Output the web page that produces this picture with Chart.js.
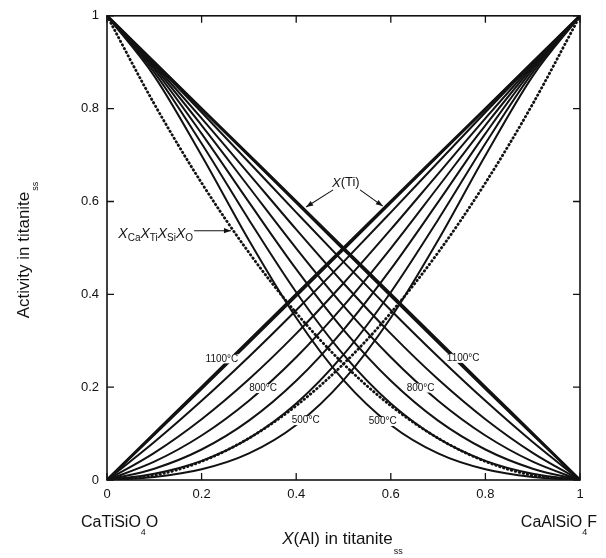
<!DOCTYPE html>
<html>
<head>
<meta charset="utf-8">
<script src="https://cdn.jsdelivr.net/npm/chart.js@4.4.0/dist/chart.umd.min.js"></script>
<style>
html, body { margin: 0; padding: 0; background: #fff; }
#wrap { width: 606px; height: 558px; }
</style>
</head>
<body>
<div id="wrap"><canvas id="chart" width="606" height="558"></canvas></div>
<script>
// X(Al) positions where the curves were read
var xAl = [0, 0.1, 0.2, 0.3, 0.4, 0.5, 0.6, 0.7, 0.8, 0.9, 1];

// ideal X(Al) and X(Ti)
var idealAl = [0, 0.1, 0.2, 0.3, 0.4, 0.5, 0.6, 0.7, 0.8, 0.9, 1];
var idealTi = [1, 0.9, 0.8, 0.7, 0.6, 0.5, 0.4, 0.3, 0.2, 0.1, 0];

// activity of the Al end member (rising curves)
var al1100 = [0, 0.0976, 0.1962, 0.2956, 0.3957, 0.4963, 0.5971, 0.6981, 0.7990, 0.8997, 1];
var al1000 = [0, 0.0817, 0.1705, 0.2655, 0.3657, 0.4698, 0.5766, 0.6845, 0.7921, 0.8978, 1];
var al900  = [0, 0.0585, 0.1310, 0.2170, 0.3153, 0.4239, 0.5398, 0.6596, 0.7791, 0.8941, 1];
var al800  = [0, 0.0394, 0.0958, 0.1708, 0.2644, 0.3751, 0.4991, 0.6312, 0.7640, 0.8897, 1];
var al700  = [0, 0.0244, 0.0657, 0.1279, 0.2138, 0.3236, 0.4542, 0.5985, 0.7462, 0.8845, 1];
var al600  = [0, 0.0136, 0.0413, 0.0896, 0.1647, 0.2700, 0.4045, 0.5607, 0.7249, 0.8781, 1];
var al500  = [0, 0.0065, 0.0230, 0.0573, 0.1186, 0.2150, 0.3496, 0.5165, 0.6990, 0.8701, 1];

// activity of the Ti end member (falling curves)
var ti1100 = [1, 0.8997, 0.7990, 0.6981, 0.5971, 0.4963, 0.3957, 0.2956, 0.1962, 0.0976, 0];
var ti1000 = [1, 0.8978, 0.7921, 0.6845, 0.5766, 0.4698, 0.3657, 0.2655, 0.1705, 0.0817, 0];
var ti900  = [1, 0.8941, 0.7791, 0.6596, 0.5398, 0.4239, 0.3153, 0.2170, 0.1310, 0.0585, 0];
var ti800  = [1, 0.8897, 0.7640, 0.6312, 0.4991, 0.3751, 0.2644, 0.1708, 0.0958, 0.0394, 0];
var ti700  = [1, 0.8845, 0.7462, 0.5985, 0.4542, 0.3236, 0.2138, 0.1279, 0.0657, 0.0244, 0];
var ti600  = [1, 0.8781, 0.7249, 0.5607, 0.4045, 0.2700, 0.1647, 0.0896, 0.0413, 0.0136, 0];
var ti500  = [1, 0.8701, 0.6990, 0.5165, 0.3496, 0.2150, 0.1186, 0.0573, 0.0230, 0.0065, 0];

// XCa XTi XSi XO (dotted)
var ionicAl = [0, 0.01, 0.04, 0.09, 0.16, 0.25, 0.36, 0.49, 0.64, 0.81, 1];
var ionicTi = [1, 0.81, 0.64, 0.49, 0.36, 0.25, 0.16, 0.09, 0.04, 0.01, 0];

var tickValues = [0, 0.2, 0.4, 0.6, 0.8, 1];
var tickLabels = ['0', '0.2', '0.4', '0.6', '0.8', '1'];

var INK = '#121212';
var FONT = 'Arial, "Liberation Sans", Helvetica, sans-serif';

function pts(ys) {
  return xAl.map(function(x, i) { return { x: x, y: ys[i] }; });
}

function curve(ys, width) {
  return {
    data: pts(ys),
    borderColor: INK,
    borderWidth: width,
    pointRadius: 0,
    fill: false,
    cubicInterpolationMode: 'monotone'
  };
}

function dotted(ys) {
  return {
    data: pts(ys),
    borderColor: INK,
    borderWidth: 2.8,
    borderDash: [0.5, 3.6],
    borderCapStyle: 'round',
    pointRadius: 0,
    fill: false,
    cubicInterpolationMode: 'monotone'
  };
}

var datasets = [
  dotted(ionicAl), dotted(ionicTi),
  curve(al500, 2), curve(al600, 2), curve(al700, 2), curve(al800, 2),
  curve(al900, 2), curve(al1000, 2), curve(al1100, 2.2),
  curve(ti500, 2), curve(ti600, 2), curve(ti700, 2), curve(ti800, 2),
  curve(ti900, 2), curve(ti1000, 2), curve(ti1100, 2.2),
  curve(idealAl, 2.8), curve(idealTi, 2.8)
];

// temperature labels, sitting in gaps of their curves
var tempNotes = [
  { t: '1100\u00b0C', x: 0.243, y: 0.261 },
  { t: '800\u00b0C',  x: 0.330, y: 0.197 },
  { t: '500\u00b0C',  x: 0.420, y: 0.128 },
  { t: '1100\u00b0C', x: 0.753, y: 0.262 },
  { t: '800\u00b0C',  x: 0.663, y: 0.198 },
  { t: '500\u00b0C',  x: 0.583, y: 0.126 }
];

function arrow(ctx, x0, y0, x1, y1) {
  ctx.beginPath();
  ctx.moveTo(x0, y0);
  ctx.lineTo(x1, y1);
  ctx.stroke();
  var ang = Math.atan2(y1 - y0, x1 - x0), L = 7, W = 2.6;
  var c = Math.cos(ang), s = Math.sin(ang);
  ctx.beginPath();
  ctx.moveTo(x1, y1);
  ctx.lineTo(x1 - L * c + W * s, y1 - L * s - W * c);
  ctx.lineTo(x1 - L * c - W * s, y1 - L * s + W * c);
  ctx.closePath();
  ctx.fill();
}

// draws a run of text pieces: {t, size, italic, dy}
function runText(ctx, parts, x, y) {
  parts.forEach(function(p) {
    ctx.font = (p.italic ? 'italic ' : '') + p.size + 'px ' + FONT;
    ctx.fillText(p.t, x, y + (p.dy || 0));
    x += ctx.measureText(p.t).width;
  });
  return x;
}

function runWidth(ctx, parts) {
  var w = 0;
  parts.forEach(function(p) {
    ctx.font = (p.italic ? 'italic ' : '') + p.size + 'px ' + FONT;
    w += ctx.measureText(p.t).width;
  });
  return w;
}

var decor = {
  id: 'decor',
  afterDatasetsDraw: function(chart) {
    var ctx = chart.ctx, a = chart.chartArea;
    var sx = chart.scales.x, sy = chart.scales.y;
    function px(v) { return sx.getPixelForValue(v); }
    function py(v) { return sy.getPixelForValue(v); }

    ctx.save();
    ctx.fillStyle = INK;
    ctx.strokeStyle = INK;
    ctx.textBaseline = 'middle';
    ctx.textAlign = 'center';

    // temperature labels with a white gap behind
    ctx.font = '10px ' + FONT;
    tempNotes.forEach(function(n) {
      var w = ctx.measureText(n.t).width;
      ctx.fillStyle = '#fff';
      ctx.fillRect(px(n.x) - w / 2 - 1, py(n.y) - 4.5, w + 2, 9);
      ctx.fillStyle = INK;
      ctx.fillText(n.t, px(n.x), py(n.y));
    });

    // X(Ti) label and its two arrows
    ctx.textAlign = 'left';
    var xt = [{ t: 'X', size: 13, italic: true }, { t: '(Ti)', size: 13 }];
    var wt = runWidth(ctx, xt);
    runText(ctx, xt, px(0.505) - wt / 2, py(0.64));
    ctx.lineWidth = 1.1;
    arrow(ctx, px(0.478), py(0.625), px(0.421), py(0.588));
    arrow(ctx, px(0.535), py(0.625), px(0.583), py(0.590));

    // XCa XTi XSi XO label and arrow
    ctx.textBaseline = 'alphabetic';
    var xe = runText(ctx, [
      { t: 'X', size: 14, italic: true }, { t: 'Ca', size: 10, dy: 3 },
      { t: 'X', size: 14, italic: true }, { t: 'Ti', size: 10, dy: 3 },
      { t: 'X', size: 14, italic: true }, { t: 'Si', size: 10, dy: 3 },
      { t: 'X', size: 14, italic: true }, { t: 'O', size: 10, dy: 3 }
    ], px(0.024), py(0.522));
    arrow(ctx, xe + 1, py(0.537), px(0.262), py(0.537));

    // frame and inward ticks on all four sides
    ctx.lineWidth = 1.6;
    ctx.strokeRect(a.left, a.top, a.right - a.left, a.bottom - a.top);
    ctx.lineWidth = 1.3;
    ctx.beginPath();
    sx.ticks.forEach(function(t) {
      var p = px(t.value);
      ctx.moveTo(p, a.bottom); ctx.lineTo(p, a.bottom - 7);
      ctx.moveTo(p, a.top); ctx.lineTo(p, a.top + 7);
    });
    sy.ticks.forEach(function(t) {
      var p = py(t.value);
      ctx.moveTo(a.left, p); ctx.lineTo(a.left + 7, p);
      ctx.moveTo(a.right, p); ctx.lineTo(a.right - 7, p);
    });
    ctx.stroke();
    ctx.restore();
  },
  afterDraw: function(chart) {
    var ctx = chart.ctx, a = chart.chartArea;
    ctx.save();
    ctx.fillStyle = INK;
    ctx.textBaseline = 'alphabetic';
    ctx.textAlign = 'left';

    // end-member names
    runText(ctx, [
      { t: 'CaTiSiO', size: 16 }, { t: '4', size: 9, dy: 8 }, { t: 'O', size: 16 }
    ], 81, 527);
    var endR = [{ t: 'CaAlSiO', size: 16 }, { t: '4', size: 9, dy: 8 }, { t: 'F', size: 16 }];
    runText(ctx, endR, 597 - runWidth(ctx, endR), 527);

    // x axis title
    var xTitle = [{ t: 'X', size: 17, italic: true }, { t: '(Al) in titanite', size: 17 }];
    var wx = runWidth(ctx, xTitle);
    var xe = runText(ctx, xTitle, (a.left + a.right) / 2 - wx / 2 - 6, 544);
    runText(ctx, [{ t: 'ss', size: 9 }], xe + 1, 554);

    // y axis title
    ctx.translate(29, 255);
    ctx.rotate(-Math.PI / 2);
    var yTitle = [{ t: 'Activity in titanite', size: 17 }];
    var wy = runWidth(ctx, yTitle);
    var ye = runText(ctx, yTitle, -wy / 2, 0);
    runText(ctx, [{ t: 'ss', size: 9 }], ye + 1, 9);
    ctx.restore();
  }
};

new Chart(document.getElementById('chart'), {
  type: 'line',
  data: { datasets: datasets },
  options: {
    responsive: false,
    animation: false,
    devicePixelRatio: 1,
    layout: { padding: { top: 13, right: 26, left: 0, bottom: 0 } },
    plugins: { legend: { display: false }, tooltip: { enabled: false } },
    scales: {
      x: {
        type: 'linear', min: 0, max: 1,
        grid: { display: false, drawTicks: false },
        border: { display: false },
        afterBuildTicks: function(s) { s.ticks = tickValues.map(function(v) { return { value: v }; }); },
        afterFit: function(s) { s.height = 78; },
        ticks: {
          padding: 7, color: INK, font: { size: 13, family: FONT },
          callback: function(v, i) { return tickLabels[i]; }
        }
      },
      y: {
        type: 'linear', min: 0, max: 1,
        grid: { display: false, drawTicks: false },
        border: { display: false },
        afterBuildTicks: function(s) { s.ticks = tickValues.map(function(v) { return { value: v }; }); },
        afterFit: function(s) { s.width = 107; },
        ticks: {
          padding: 8, color: INK, font: { size: 13, family: FONT },
          callback: function(v, i) { return tickLabels[i]; }
        }
      }
    }
  },
  plugins: [decor]
});
</script>
</body>
</html>
